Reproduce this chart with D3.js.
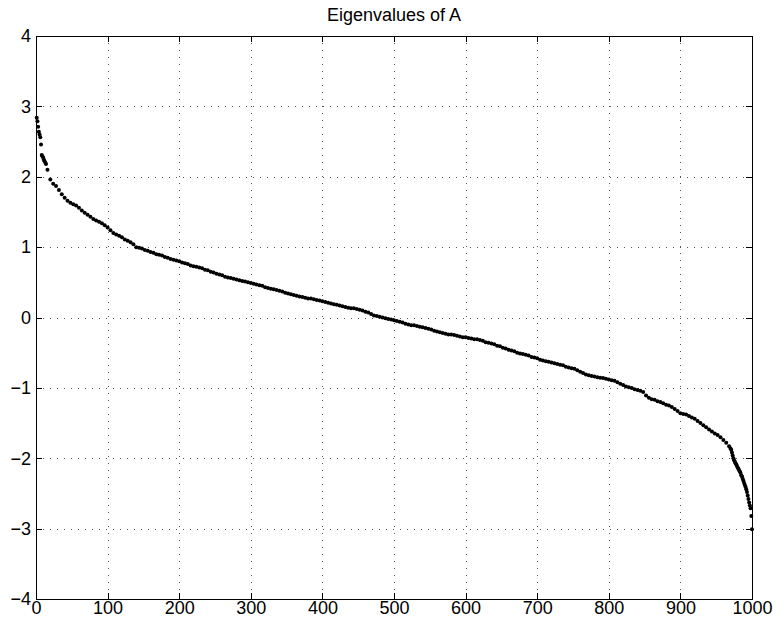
<!DOCTYPE html>
<html>
<head>
<meta charset="utf-8">
<title>Eigenvalues of A</title>
<script src="https://cdn.jsdelivr.net/npm/d3@7"></script>
<style>
    body { margin: 0; background: #fff; }
    svg { display: block; font-family: "Liberation Sans", Arial, Helvetica, sans-serif; }
    .grid line { stroke: #555; stroke-dasharray: 1,6; shape-rendering: crispEdges; }
    .axis path, .axis line { stroke: #000; shape-rendering: crispEdges; }
    .axis text { font-size: 18px; fill: #000; }
    .title { font-size: 18px; fill: #000; }
</style>
</head>
<body>
<svg id="chart"></svg>
<script>
// Eigenvalues, sorted largest to smallest.
// First few indices (1..14), one value each
const headValues = [2.84, 2.79, 2.71, 2.64, 2.60, 2.56, 2.46, 2.31, 2.29, 2.27, 2.24, 2.22, 2.20, 2.18];

// Middle of the spectrum, every 4th index from 16 to 968
const bodyValues = [
    2.10, 1.96, 1.90, 1.87, 1.81, 1.75, 1.70, 1.66, 1.63, 1.61, 1.59, 1.56, 1.52, 1.49, 1.46, 1.43, 1.40, 1.38, 1.36, 1.34, 1.31, 1.28, 1.24, 1.20, 1.18,
    1.16, 1.14, 1.11, 1.09, 1.07, 1.04, 1.00, 0.99, 0.98, 0.96, 0.95, 0.93, 0.92, 0.90, 0.89, 0.88, 0.86, 0.85, 0.83, 0.82, 0.81, 0.80, 0.78, 0.77, 0.76,
    0.74, 0.73, 0.72, 0.71, 0.70, 0.68, 0.67, 0.65, 0.64, 0.62, 0.61, 0.60, 0.58, 0.57, 0.56, 0.55, 0.54, 0.53, 0.52, 0.51, 0.50, 0.49, 0.48, 0.47, 0.46,
    0.45, 0.43, 0.42, 0.41, 0.40, 0.39, 0.38, 0.37, 0.35, 0.34, 0.33, 0.32, 0.31, 0.30, 0.29, 0.28, 0.27, 0.27, 0.26, 0.25, 0.24, 0.23, 0.22, 0.21, 0.20,
    0.19, 0.18, 0.17, 0.16, 0.15, 0.14, 0.13, 0.13, 0.12, 0.11, 0.10, 0.08, 0.07, 0.05, 0.03, 0.02, 0.01, 0.00, -0.01, -0.02, -0.03, -0.04, -0.05, -0.06, -0.07,
    -0.09, -0.10, -0.11, -0.11, -0.12, -0.13, -0.14, -0.15, -0.16, -0.17, -0.19, -0.20, -0.21, -0.22, -0.23, -0.24, -0.24, -0.25, -0.26, -0.27, -0.28, -0.28, -0.29, -0.30, -0.31,
    -0.31, -0.32, -0.33, -0.35, -0.36, -0.37, -0.38, -0.40, -0.41, -0.43, -0.44, -0.46, -0.47, -0.48, -0.50, -0.51, -0.52, -0.53, -0.54, -0.56, -0.57, -0.58, -0.60, -0.61, -0.62,
    -0.63, -0.64, -0.65, -0.66, -0.67, -0.68, -0.70, -0.71, -0.72, -0.73, -0.75, -0.77, -0.79, -0.81, -0.82, -0.83, -0.84, -0.85, -0.855, -0.86, -0.87, -0.88, -0.89, -0.90, -0.92,
    -0.94, -0.96, -0.98, -0.99, -1.00, -1.02, -1.03, -1.04, -1.06, -1.11, -1.14, -1.16, -1.17, -1.19, -1.20, -1.22, -1.24, -1.25, -1.27, -1.30, -1.33, -1.36, -1.37, -1.38, -1.40,
    -1.42, -1.44, -1.47, -1.50, -1.53, -1.56, -1.59, -1.62, -1.65, -1.67, -1.70, -1.74, -1.78, -1.83
];

// Steep tail, one value each for indices 970..1000
const tailValues = [
    -1.86, -1.88, -1.92, -1.96, -2.00, -2.03, -2.05, -2.07, -2.09, -2.11, -2.13, -2.15, -2.17, -2.19, -2.21, -2.24,
    -2.26, -2.29, -2.32, -2.35, -2.38, -2.41, -2.44, -2.48, -2.53, -2.58, -2.63, -2.67, -2.71, -2.82, -3.01
];

const xTicks = d3.range(0, 1001, 100);
const yTicks = d3.range(-4, 5, 1);
const chartTitle = 'Eigenvalues of A';

// Layout constants
const CONFIG = {
    width: 773,
    height: 626,
    margin: { top: 36, right: 21, bottom: 27, left: 36 },
    tickLength: 6,
    dotRadius: 2.0
};

/**
 * Pair each eigenvalue with its index in the sorted list
 */
function buildPoints() {
    const head = headValues.map((v, i) => ({ index: 1 + i, value: v }));
    const body = bodyValues.map((v, i) => ({ index: 16 + 4 * i, value: v }));
    const tail = tailValues.map((v, i) => ({ index: 970 + i, value: v }));
    return head.concat(body, tail);
}

function renderChart() {
    const plotWidth = CONFIG.width - CONFIG.margin.left - CONFIG.margin.right;
    const plotHeight = CONFIG.height - CONFIG.margin.top - CONFIG.margin.bottom;

    const svg = d3.select('#chart')
        .attr('width', CONFIG.width)
        .attr('height', CONFIG.height);

    const g = svg.append('g')
        .attr('transform', `translate(${CONFIG.margin.left},${CONFIG.margin.top})`);

    const xScale = d3.scaleLinear().domain([0, 1000]).range([0, plotWidth]);
    const yScale = d3.scaleLinear().domain([-4, 4]).range([plotHeight, 0]);

    // Dotted grid (interior ticks only)
    const grid = g.append('g').attr('class', 'grid');
    grid.selectAll('.gx')
        .data(xTicks.slice(1, -1))
        .enter().append('line')
        .attr('x1', d => Math.round(xScale(d)) + 0.5)
        .attr('x2', d => Math.round(xScale(d)) + 0.5)
        .attr('y1', 0)
        .attr('y2', plotHeight);
    grid.selectAll('.gy')
        .data(yTicks.slice(1, -1))
        .enter().append('line')
        .attr('y1', d => Math.round(yScale(d)) + 0.5)
        .attr('y2', d => Math.round(yScale(d)) + 0.5)
        .attr('x1', 0)
        .attr('x2', plotWidth);

    // Eigenvalue markers
    g.append('g')
        .selectAll('circle')
        .data(buildPoints())
        .enter().append('circle')
        .attr('cx', d => xScale(d.index))
        .attr('cy', d => yScale(d.value))
        .attr('r', CONFIG.dotRadius)
        .attr('fill', '#000');

    // Axes: ticks point inward on all four sides
    const fmt = d3.format('d');
    g.append('g')
        .attr('class', 'axis')
        .attr('transform', `translate(0,${plotHeight})`)
        .call(d3.axisBottom(xScale).tickValues(xTicks).tickFormat(fmt)
            .tickSizeInner(-CONFIG.tickLength).tickSizeOuter(0).tickPadding(2));
    g.append('g')
        .attr('class', 'axis')
        .call(d3.axisTop(xScale).tickValues(xTicks).tickFormat('')
            .tickSizeInner(-CONFIG.tickLength).tickSizeOuter(0));
    g.append('g')
        .attr('class', 'axis')
        .call(d3.axisLeft(yScale).tickValues(yTicks).tickFormat(fmt)
            .tickSizeInner(-CONFIG.tickLength).tickSizeOuter(0).tickPadding(5));
    g.append('g')
        .attr('class', 'axis')
        .attr('transform', `translate(${plotWidth},0)`)
        .call(d3.axisRight(yScale).tickValues(yTicks).tickFormat('')
            .tickSizeInner(-CONFIG.tickLength).tickSizeOuter(0));

    g.selectAll('.axis .domain').attr('stroke-width', 1);
    g.selectAll('.axis text').attr('font-family', null).attr('font-size', null);

    // Title
    g.append('text')
        .attr('class', 'title')
        .attr('x', plotWidth / 2)
        .attr('y', -15)
        .attr('text-anchor', 'middle')
        .text(chartTitle);
}

document.addEventListener('DOMContentLoaded', renderChart);
</script>
</body>
</html>
